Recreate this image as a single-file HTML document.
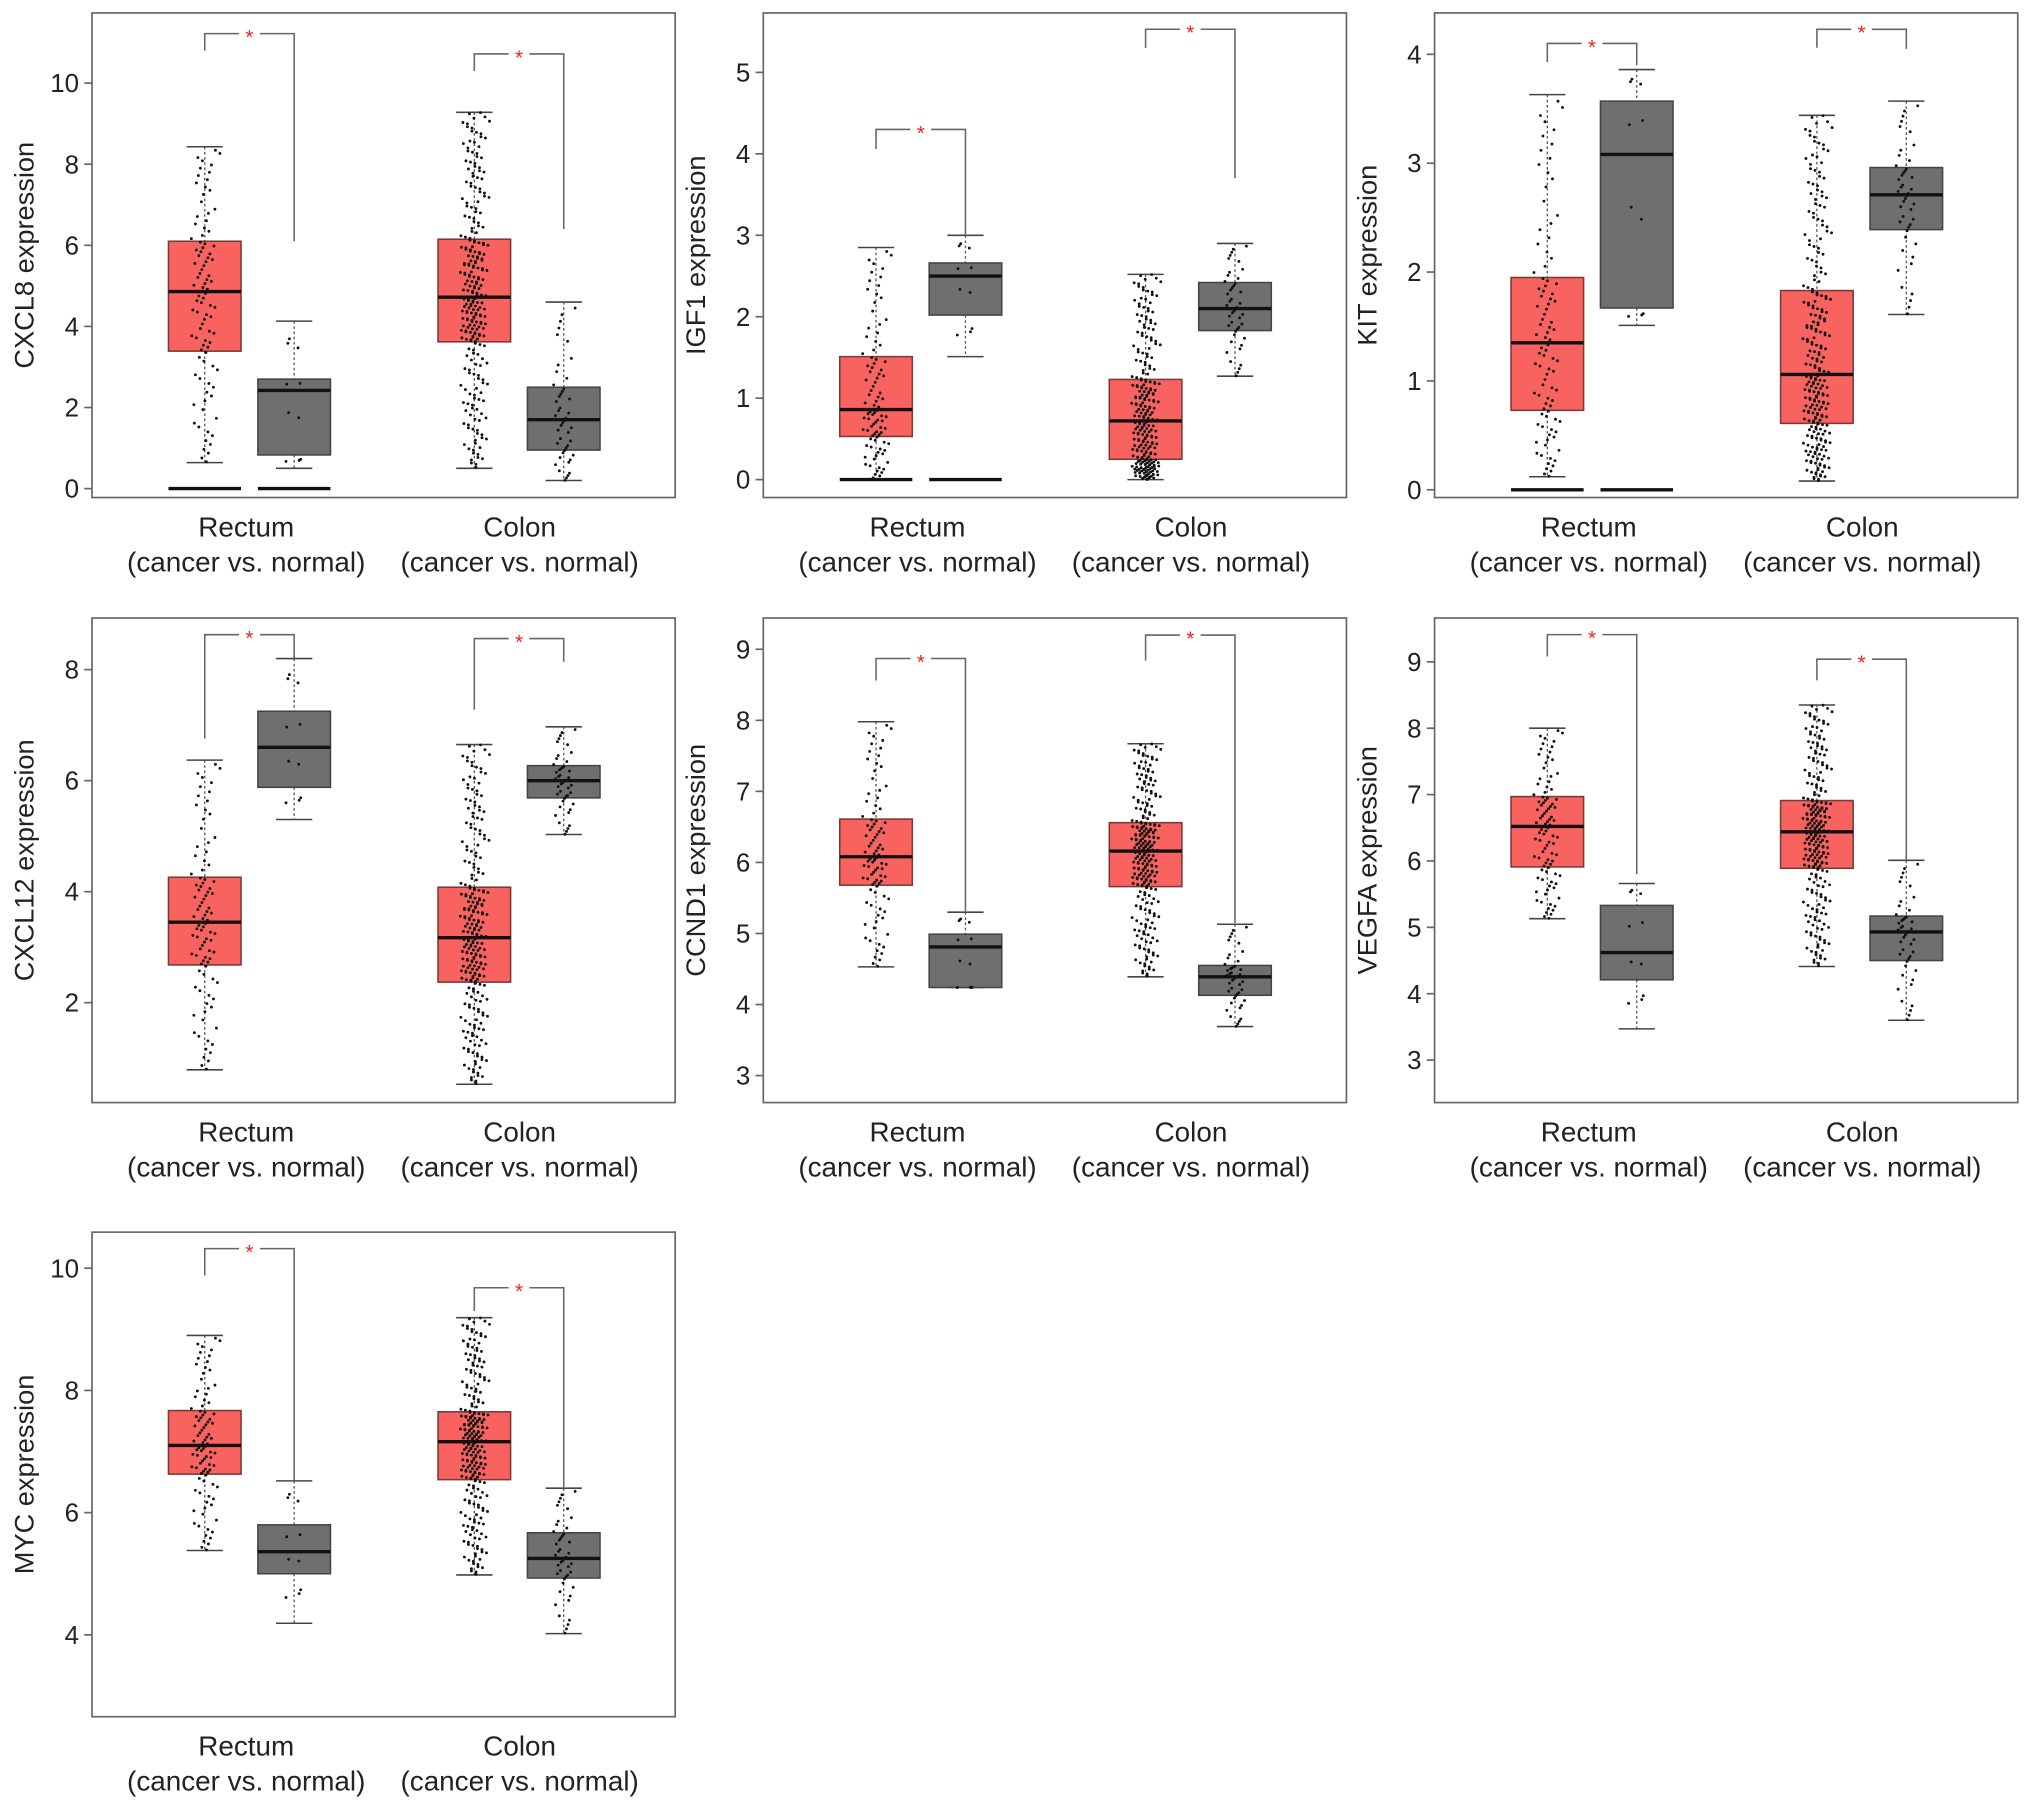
<!DOCTYPE html>
<html><head><meta charset="utf-8"><style>
html,body{margin:0;padding:0;background:#fff}
svg{display:block}
text{font-family:"Liberation Sans",Arial,sans-serif;fill:#222}
</style></head><body>
<svg id="chart" width="2032" height="1810" viewBox="0 0 1568 1397" preserveAspectRatio="none" xmlns="http://www.w3.org/2000/svg"></svg>
<script>
// Panel data
const genes = ["CXCL8","IGF1","KIT","CXCL12","CCND1","VEGFA","MYC"];
const panelPos = [[71,10],[589,10],[1107,10],[71,477],[589,477],[1107,477],[71,951]];
const yDomains = [[-0.22,11.73],[-0.22,5.73],[-0.071,4.38],[0.20,8.93],[2.62,9.44],[2.36,9.66],[2.66,10.59]];
const yTicks = [[0,2,4,6,8,10],[0,1,2,3,4,5],[0,1,2,3,4],[2,4,6,8],[3,4,5,6,7,8,9],[3,4,5,6,7,8,9],[4,6,8,10]];
const categories = ["Rectum","Colon"];
// [lo, q1, median, q3, hi] per group: rectum-cancer, rectum-normal, colon-cancer, colon-normal
const boxStats = [
 [[0.64,3.39,4.86,6.1,8.43],[0.5,0.83,2.42,2.7,4.13],[0.5,3.62,4.72,6.15,9.28],[0.2,0.95,1.7,2.5,4.6]],
 [[0,0.53,0.86,1.51,2.85],[1.51,2.02,2.5,2.66,3.0],[0,0.25,0.72,1.23,2.52],[1.27,1.83,2.1,2.42,2.9]],
 [[0.12,0.73,1.35,1.95,3.63],[1.51,1.67,3.08,3.57,3.86],[0.08,0.61,1.06,1.83,3.44],[1.61,2.39,2.71,2.96,3.57]],
 [[0.79,2.68,3.45,4.26,6.37],[5.3,5.88,6.6,7.25,8.2],[0.53,2.37,3.17,4.08,6.65],[5.03,5.69,6.0,6.27,6.97]],
 [[4.53,5.68,6.08,6.61,7.98],[4.24,4.24,4.81,4.99,5.3],[4.39,5.66,6.16,6.56,7.67],[3.69,4.13,4.39,4.55,5.13]],
 [[5.13,5.91,6.52,6.97,8.0],[3.47,4.21,4.62,5.33,5.66],[4.41,5.89,6.44,6.91,8.35],[3.6,4.5,4.93,5.17,6.01]],
 [[5.38,6.63,7.1,7.67,8.9],[4.19,5.0,5.36,5.8,6.52],[4.98,6.54,7.16,7.65,9.19],[4.02,4.93,5.25,5.67,6.4]]
];
const groupCounts = [95,10,260,45];
const zeroLines = [[true,true,false,false],[true,true,false,false],[true,true,false,false],[false,false,false,false],[false,false,false,false],[false,false,false,false],[false,false,false,false]];
// bracket: top, left end, right end for rectum and colon
const bracketTops = [[11.22,10.72],[4.3,5.53],[4.1,4.23],[8.63,8.56],[8.87,9.2],[9.41,9.04],[10.32,9.68]];
const bracketLeft = [[10.8,10.3],[4.06,5.3],[3.93,4.06],[6.76,7.28],[8.56,8.84],[9.08,8.72],[9.88,9.3]];
const bracketRight = [[6.1,6.4],[3.0,3.7],[3.9,4.05],[8.2,8.14],[5.3,5.15],[5.8,6.01],[6.52,6.4]];

const NS="http://www.w3.org/2000/svg";
const svg=document.getElementById('chart');
function el(tag,attrs,parent){const e=document.createElementNS(NS,tag);for(const k in attrs)e.setAttribute(k,attrs[k]);(parent||svg).appendChild(e);return e;}
const fr1=x=>x-Math.floor(x);
const W=450,H=374;
const groupX=[87,156,295,364];
const HW=28, CAP=14;

genes.forEach((g,p)=>{
  const [px,py]=panelPos[p];
  const [d0,d1]=yDomains[p];
  const y=v=>py+H-(v-d0)/(d1-d0)*H;
  const G=el('g',{});
  
  
  const fr=el('rect',{x:px,y:py,width:W,height:H,fill:'none',stroke:'#666','stroke-width':1.3},G);
  
  
  yTicks[p].forEach(t=>{
    const ty=y(t);
    const tl=el('line',{x1:px-6,x2:px,y1:ty,y2:ty,stroke:'#666','stroke-width':1.3},G);
    
    
    const tx=el('text',{x:px-10,y:ty+7,'text-anchor':'end','font-size':20},G);
    
    
    tx.textContent=t;
  });
  const yl=el('text',{x:0,y:0,'text-anchor':'middle','font-size':21,transform:`translate(${px-45},${py+H/2}) rotate(-90)`},G);
  
  
  yl.textContent=g+' expression';
  categories.forEach((c,ci)=>{
    const cx=px+(ci==0?119:330);
    const t1=el('text',{x:cx,y:py+H+30,'text-anchor':'middle','font-size':21.5},G);
    
    
    t1.textContent=c;
    const t2=el('text',{x:cx,y:py+H+57,'text-anchor':'middle','font-size':21.5},G);
    
    
    t2.textContent='(cancer vs. normal)';
  });
  boxStats[p].forEach((s,gi)=>{
    const cx=px+groupX[gi];
    const [lo,q1,md,q3,hi]=s;
    const fill=gi%2==0?'#f8635f':'#6f6f6f';
    const stroke=gi%2==0?'#7a3a36':'#444';
    const bg=el('g',{},G);
    
    
    el('line',{x1:cx,x2:cx,y1:y(hi),y2:y(q3),stroke:'#555','stroke-width':1,'stroke-dasharray':'2,2'},bg);
    el('line',{x1:cx,x2:cx,y1:y(q1),y2:y(lo),stroke:'#555','stroke-width':1,'stroke-dasharray':'2,2'},bg);
    el('line',{x1:cx-CAP,x2:cx+CAP,y1:y(hi),y2:y(hi),stroke:'#444','stroke-width':1.2},bg);
    el('line',{x1:cx-CAP,x2:cx+CAP,y1:y(lo),y2:y(lo),stroke:'#444','stroke-width':1.2},bg);
    el('rect',{x:cx-HW,y:y(q3),width:2*HW,height:Math.max(0.5,y(q1)-y(q3)),fill:fill,stroke:stroke,'stroke-width':1.2},bg);
    const n=groupCounts[gi];
    const qs=[lo,q1,md,q3,hi];
    const jw=n>50?12:9;
    for(let i=0;i<n;i++){
      const u=fr1(i*0.7548776662+0.13)*4; const k=Math.min(3,Math.floor(u)); const f=u-k;
      const v=qs[k]+(qs[k+1]-qs[k])*f;
      const jx=(fr1(i*0.618034)+fr1(i*0.41421356+0.3)-1)*jw;
      el('circle',{cx:cx+jx,cy:y(v),r:1.1,fill:'#111'},bg);
    }
    if(zeroLines[p][gi]){
      el('line',{x1:cx-HW,x2:cx+HW,y1:y(0),y2:y(0),stroke:'#111','stroke-width':2.6},bg);
    }
    el('line',{x1:cx-HW,x2:cx+HW,y1:y(md),y2:y(md),stroke:'#111','stroke-width':2.6},bg);
  });
  [0,1].forEach(bi=>{
    const xl=px+groupX[bi*2], xr=px+groupX[bi*2+1];
    const bt=y(bracketTops[p][bi]);
    const bgp=el('g',{},G);
    
    
    el('polyline',{points:`${xl},${y(bracketLeft[p][bi])} ${xl},${bt} ${xr},${bt} ${xr},${y(bracketRight[p][bi])}`,fill:'none',stroke:'#666','stroke-width':1.2},bgp);
    const mx=(xl+xr)/2;
    el('rect',{x:mx-8,y:bt-3,width:16,height:6,fill:'#fff'},bgp);
    const st=el('text',{x:mx,y:bt+8,'text-anchor':'middle','font-size':16,style:'fill:#ee2222'},bgp);
    st.textContent='*';
  });
});
</script>
</body></html>
